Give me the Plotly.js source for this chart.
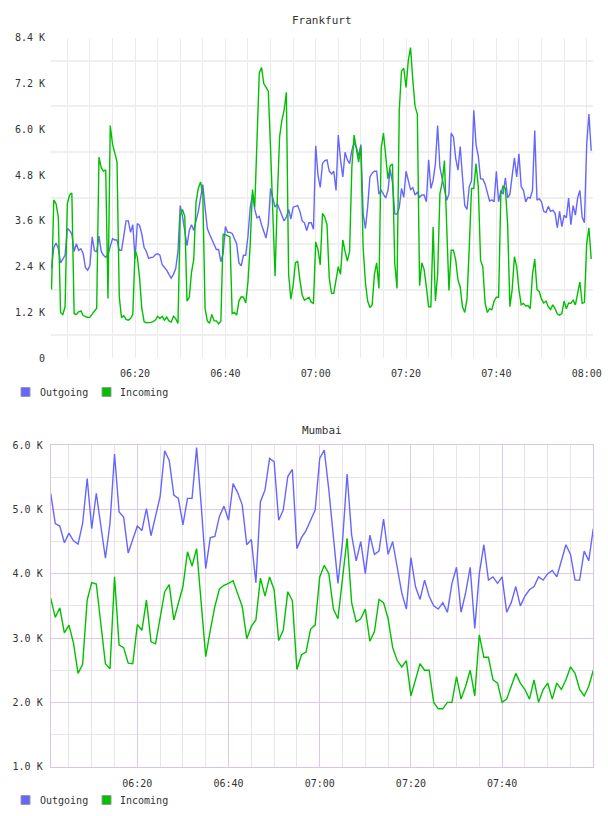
<!DOCTYPE html>
<html>
<head>
<meta charset="utf-8">
<script src="https://cdn.plot.ly/plotly-3.0.1.min.js"></script>
<style>
  html, body { margin: 0; padding: 0; background: #ffffff; }
  #chart { width: 608px; height: 816px; }
</style>
</head>
<body>
<div id="chart"></div>
<script>
// ---- Frankfurt: 30 s samples starting 06:01:30 (values in K) ----
const frankfurtStart = '06:01:30';
const frankfurtStepSec = 30;
const frankfurtOutgoing = [
  2.35, 2.90, 3.02, 2.88, 2.50, 2.60, 2.70, 3.40, 3.35, 3.25,
  2.80, 3.00, 2.83, 2.87, 2.75, 2.38, 2.31, 2.43, 3.18, 2.82,
  2.79, 3.20, 2.80, 2.70, 2.65, 2.72, 2.90, 3.13, 3.10, 3.10,
  2.83, 2.83, 3.20, 3.60, 3.60, 3.30, 3.50, 2.60, 3.53, 3.48,
  3.25, 2.90, 2.80, 2.62, 2.64, 2.65, 2.72, 2.74, 2.70, 2.45,
  2.38, 2.31, 2.20, 2.10, 2.20, 2.35, 2.80, 4.00, 3.72, 3.30,
  2.95, 3.35, 3.50, 3.35, 3.60, 3.85, 4.20, 4.55, 3.95, 3.40,
  3.25, 3.10, 3.00, 2.85, 2.85, 2.53, 2.75, 3.45, 3.30, 3.30,
  3.27, 3.15, 3.00, 2.50, 2.42, 2.70, 2.70, 3.20, 3.95, 4.30,
  3.90, 3.68, 3.72, 3.50, 3.30, 3.15, 3.50, 4.45, 4.20, 3.96,
  4.05, 3.90, 3.75, 3.60, 3.70, 3.90, 3.65, 3.96, 3.98, 4.00,
  3.85, 3.60, 3.55, 3.35, 3.55, 3.55, 3.38, 5.57, 4.80, 4.48,
  5.10, 5.18, 5.20, 4.90, 4.83, 4.90, 4.40, 5.85, 5.20, 4.75,
  5.40, 5.20, 5.10, 5.45, 5.64, 5.53, 5.30, 5.60, 3.80, 3.40,
  3.96, 4.75, 4.85, 4.90, 4.90, 4.30, 4.40, 4.30, 4.20, 4.40,
  4.95, 4.60, 3.79, 3.77, 3.95, 4.45, 4.22, 4.90, 4.65, 4.42,
  4.47, 4.28, 4.35, 4.22, 4.28, 4.28, 4.10, 5.20, 4.45, 4.66,
  5.10, 6.10, 5.00, 4.68, 4.45, 4.14, 4.30, 5.90, 5.80, 5.24,
  4.93, 5.55, 4.75, 4.00, 3.90, 4.50, 4.65, 6.50, 5.60, 5.30,
  4.70, 4.70, 4.57, 4.37, 4.12, 4.15, 4.10, 4.90, 4.10, 4.40,
  4.30, 4.73, 4.20, 4.30, 4.80, 5.25, 4.75, 5.36, 4.50, 4.40,
  4.10, 4.22, 4.20, 4.40, 5.97, 4.14, 4.18, 4.10, 3.85, 3.82,
  3.98, 3.85, 3.88, 3.80, 3.42, 3.85, 3.45, 3.75, 3.68, 4.20,
  3.50, 4.00, 3.75, 4.20, 4.40, 3.70, 3.55, 5.60, 6.40, 5.44
];
const frankfurtIncoming = [
  1.80, 4.15, 4.05, 3.70, 1.20, 1.15, 1.35, 4.05, 4.28, 4.33,
  1.17, 1.15, 1.22, 1.24, 1.12, 1.09, 1.07, 1.08, 1.15, 1.24,
  1.31, 5.27, 5.00, 4.90, 4.94, 1.57, 6.10, 5.62, 5.40, 5.15,
  1.61, 1.06, 1.12, 1.02, 1.00, 1.04, 1.15, 2.83, 2.66, 2.10,
  1.30, 0.96, 0.93, 0.93, 0.94, 0.96, 1.00, 1.10, 1.04, 1.10,
  1.00, 1.08, 0.98, 0.95, 1.10, 1.04, 0.91, 3.75, 3.90, 3.72,
  1.50, 1.60, 2.25, 2.60, 4.10, 4.45, 4.62, 4.30, 1.30, 0.98,
  0.92, 1.15, 0.98, 0.98, 0.90, 0.97, 3.25, 3.24, 3.22, 3.18,
  1.17, 1.20, 1.13, 1.50, 1.61, 1.60, 1.45, 2.00, 3.00, 4.42,
  3.96, 5.60, 7.47, 7.62, 7.20, 7.10, 7.00, 5.50, 3.60, 2.15,
  4.20, 5.80, 6.23, 6.50, 6.97, 2.20, 1.55, 1.90, 2.50, 2.55,
  2.05, 1.66, 1.52, 1.55, 1.60, 1.47, 1.44, 3.05, 2.85, 2.45,
  3.80, 3.70, 3.50, 2.10, 1.70, 1.70, 2.10, 2.40, 2.20, 3.10,
  2.80, 2.55, 2.80, 5.00, 5.85, 5.45, 5.14, 5.55, 2.90, 2.00,
  1.50, 1.33, 1.40, 2.20, 2.50, 1.83, 5.50, 5.90, 5.20, 4.70,
  5.05, 5.09, 2.50, 1.83, 6.50, 7.53, 7.60, 7.10, 7.80, 8.14,
  7.30, 6.60, 6.40, 1.90, 2.50, 2.33, 1.87, 1.35, 1.35, 3.44,
  1.50, 2.20, 4.31, 4.60, 5.18, 3.60, 1.78, 2.83, 2.83, 2.57,
  2.05, 1.87, 1.35, 1.20, 1.55, 2.90, 4.45, 4.45, 5.10, 4.50,
  2.57, 2.40, 1.45, 1.20, 1.30, 1.27, 1.50, 1.60, 1.60, 4.30,
  4.52, 4.45, 3.50, 1.35, 1.80, 2.66, 2.40, 1.80, 1.40, 1.44,
  1.37, 1.38, 1.30, 2.20, 2.60, 1.80, 1.75, 1.55, 1.45, 1.50,
  1.35, 1.28, 1.40, 1.30, 1.16, 1.13, 1.17, 1.50, 1.30, 1.45,
  1.44, 1.52, 1.40, 1.70, 2.00, 1.44, 1.46, 3.00, 3.42, 2.60
];
const frankfurtYTicks = [0, 1.2, 2.4, 3.6, 4.8, 6.0, 7.2, 8.4];
const frankfurtYTickText = ['0', '1.2 K', '2.4 K', '3.6 K', '4.8 K', '6.0 K', '7.2 K', '8.4 K'];
const frankfurtYGrid = [0.6, 1.8, 3.0, 4.2, 5.4, 6.6, 7.8];
const frankfurtXTicks = ['06:20', '06:40', '07:00', '07:20', '07:40', '08:00'];

// ---- Mumbai: 1 min samples starting 06:01 (values in K) ----
const mumbaiStart = '06:01:00';
const mumbaiStepSec = 60;
const mumbaiOutgoing = [
  5.25, 4.78, 4.74, 4.48, 4.63, 4.51, 4.46, 4.78, 5.48, 4.70,
  5.25, 4.73, 4.24, 4.78, 5.86, 4.96, 4.88, 4.32, 4.52, 4.74,
  4.67, 5.01, 4.59, 4.89, 5.20, 5.91, 5.76, 5.22, 5.17, 4.76,
  5.17, 5.17, 5.96, 5.07, 4.08, 4.56, 4.58, 4.89, 5.05, 4.83,
  5.40, 5.26, 5.07, 4.45, 4.53, 3.86, 5.12, 5.30, 5.79, 5.74,
  4.83, 4.99, 5.51, 5.62, 4.39, 4.56, 4.67, 4.83, 4.99, 5.79,
  5.92, 5.30, 4.60, 3.85, 4.50, 5.55, 4.60, 4.20, 4.50, 4.00,
  4.60, 4.30, 4.35, 4.85, 4.30, 4.50, 4.10, 3.70, 3.45, 4.25,
  3.80, 3.60, 3.90, 3.65, 3.50, 3.45, 3.55, 3.40, 3.85, 4.10,
  3.40, 3.70, 4.10, 3.15, 4.00, 4.45, 3.90, 3.95, 3.85, 3.95,
  3.40, 3.55, 3.80, 3.50, 3.65, 3.75, 3.80, 3.95, 3.90, 4.00,
  4.05, 3.95, 4.20, 4.45, 4.30, 3.90, 3.90, 4.35, 4.20, 4.70
];
const mumbaiIncoming = [
  3.62, 3.32, 3.47, 3.08, 3.20, 2.92, 2.45, 2.59, 3.59, 3.86,
  3.84, 3.20, 2.60, 2.52, 3.95, 2.89, 2.85, 2.61, 2.60, 3.21,
  3.12, 3.59, 2.94, 2.91, 3.31, 3.72, 3.83, 3.28, 3.54, 3.80,
  4.34, 4.12, 4.39, 3.49, 2.71, 3.12, 3.49, 3.76, 3.82, 3.85,
  3.89, 3.69, 3.49, 2.99, 3.18, 3.28, 3.93, 3.65, 3.95, 3.75,
  2.96, 3.12, 3.72, 3.58, 2.51, 2.74, 2.78, 3.14, 3.20, 3.95,
  4.13, 4.00, 3.45, 3.30, 3.90, 4.55, 3.55, 3.25, 3.30, 3.45,
  2.95, 3.10, 3.60, 3.55, 3.30, 2.85, 2.65, 2.55, 2.65, 2.10,
  2.35, 2.60, 2.50, 2.50, 2.00, 1.90, 1.90, 2.00, 2.00, 2.40,
  2.05, 2.25, 2.50, 2.10, 3.05, 2.70, 2.70, 2.35, 2.30, 2.00,
  2.05, 2.25, 2.45, 2.30, 2.20, 2.05, 2.35, 2.00, 2.20, 2.30,
  2.05, 2.30, 2.20, 2.35, 2.55, 2.45, 2.20, 2.10, 2.25, 2.50
];
const mumbaiYTicks = [1, 2, 3, 4, 5, 6];
const mumbaiYTickText = ['1.0 K', '2.0 K', '3.0 K', '4.0 K', '5.0 K', '6.0 K'];
const mumbaiYMinorGrid = [1.5, 2.5, 3.5, 4.5, 5.5];
const mumbaiXTicks = ['06:20', '06:40', '07:00', '07:20', '07:40'];

const seriesNames = ['Outgoing', 'Incoming'];
const seriesColors = ['#6666ff', '#00c000'];

// ---- helpers ----
const DAY = '2000-01-01';
const W = 608, H = 816;
function toSec(hms) {
  const p = hms.split(':').map(Number);
  return p[0] * 3600 + p[1] * 60 + (p[2] || 0);
}
function stamp(sec) {
  const h = Math.floor(sec / 3600), m = Math.floor((sec % 3600) / 60), s = sec % 60;
  const z = n => String(n).padStart(2, '0');
  return DAY + ' ' + z(h) + ':' + z(m) + ':' + z(s);
}
function timeAxis(start, step, n) {
  const s0 = toSec(start);
  return Array.from({ length: n }, (_, i) => stamp(s0 + i * step));
}
const px = x => x / W;
const py = y => 1 - y / H;

const fx = timeAxis(frankfurtStart, frankfurtStepSec, frankfurtOutgoing.length);
const mx = timeAxis(mumbaiStart, mumbaiStepSec, mumbaiOutgoing.length);

const lineStyle = c => ({ color: c, width: 1.4 });
const traces = [
  { x: fx, y: frankfurtOutgoing, name: seriesNames[0], type: 'scatter', mode: 'lines', line: lineStyle(seriesColors[0]), xaxis: 'x', yaxis: 'y' },
  { x: fx, y: frankfurtIncoming, name: seriesNames[1], type: 'scatter', mode: 'lines', line: lineStyle(seriesColors[1]), xaxis: 'x', yaxis: 'y' },
  { x: mx, y: mumbaiOutgoing, name: seriesNames[0], type: 'scatter', mode: 'lines', line: lineStyle(seriesColors[0]), xaxis: 'x2', yaxis: 'y2' },
  { x: mx, y: mumbaiIncoming, name: seriesNames[1], type: 'scatter', mode: 'lines', line: lineStyle(seriesColors[1]), xaxis: 'x2', yaxis: 'y2' }
];

const FONT = { family: 'DejaVu Sans Mono, monospace', size: 10, color: '#333333' };
const fGrid = '#ebebeb';
const mMajor = '#e0c8e0';
const mMinor = '#e9e4e9';
const mBorder = '#dcc4dc';

const layout = {
  width: W, height: H,
  margin: { l: 0, r: 0, t: 0, b: 0 },
  paper_bgcolor: '#ffffff', plot_bgcolor: '#ffffff',
  showlegend: false,
  font: FONT,
  xaxis: {
    domain: [px(51), px(593.3)],
    type: 'date',
    range: [stamp(toSec('06:01:23')), stamp(toSec('08:01:28'))],
    tickmode: 'array',
    tickvals: frankfurtXTicks.map(t => stamp(toSec(t))),
    ticktext: frankfurtXTicks,
    showgrid: true, gridcolor: fGrid, gridwidth: 1,
    minor: { dtick: 300000, tick0: stamp(toSec('06:00')), showgrid: true, gridcolor: fGrid, gridwidth: 1 },
    zeroline: false, showline: false, ticks: '',
    ticklabelstandoff: 8,
    tickfont: FONT,
    anchor: 'y', fixedrange: true
  },
  yaxis: {
    domain: [py(358.3), py(37.7)],
    range: [0, 8.4],
    tickmode: 'array', tickvals: frankfurtYTicks, ticktext: frankfurtYTickText,
    showgrid: false,
    minor: { tickmode: 'array', tickvals: frankfurtYGrid, showgrid: true, gridcolor: '#efefef', gridwidth: 2 },
    zeroline: false, showline: false, ticks: '',
    ticklabelstandoff: 5,
    tickfont: FONT,
    anchor: 'x', fixedrange: true
  },
  xaxis2: {
    domain: [px(50.7), px(593.3)],
    type: 'date',
    range: [stamp(toSec('06:01:00')), stamp(toSec('08:00:00'))],
    tickmode: 'array',
    tickvals: mumbaiXTicks.map(t => stamp(toSec(t))),
    ticktext: mumbaiXTicks,
    showgrid: true, gridcolor: mMajor, gridwidth: 1,
    minor: { dtick: 300000, tick0: stamp(toSec('06:00')), showgrid: true, gridcolor: mMinor, gridwidth: 1 },
    zeroline: false, showline: true, linecolor: mBorder, linewidth: 1, mirror: true, ticks: '',
    ticklabelstandoff: 7,
    tickfont: FONT,
    anchor: 'y2', fixedrange: true
  },
  yaxis2: {
    domain: [py(766.7), py(445)],
    range: [1, 6],
    tickmode: 'array', tickvals: mumbaiYTicks, ticktext: mumbaiYTickText,
    showgrid: true, gridcolor: mMajor, gridwidth: 1,
    minor: { tickmode: 'array', tickvals: mumbaiYMinorGrid, showgrid: true, gridcolor: mMinor, gridwidth: 1 },
    zeroline: false, showline: true, linecolor: mBorder, linewidth: 1, mirror: true, ticks: '',
    ticklabelstandoff: 5,
    tickfont: FONT,
    anchor: 'x2', fixedrange: true
  },
  annotations: [],
  shapes: []
};

// chart titles
[['Frankfurt', 20], ['Mumbai', 430]].forEach(([text, y]) => {
  layout.annotations.push({
    xref: 'paper', yref: 'paper', x: px(322), y: py(y), text: text,
    showarrow: false, xanchor: 'center', yanchor: 'middle',
    font: { family: FONT.family, size: 11, color: '#333333' }
  });
});

// legend rows under each chart: coloured square + label
[392, 800].forEach(rowY => {
  const items = [[21, 38], [102, 118]];
  items.forEach(([sx, tx], i) => {
    layout.shapes.push({
      type: 'rect', xref: 'paper', yref: 'paper',
      x0: px(sx), x1: px(sx + 9), y0: py(rowY + 4.5), y1: py(rowY - 4.5),
      fillcolor: seriesColors[i], line: { color: '#999999', width: 1 }
    });
    layout.annotations.push({
      xref: 'paper', yref: 'paper', x: px(tx), y: py(rowY), text: seriesNames[i],
      showarrow: false, xanchor: 'left', yanchor: 'middle',
      font: FONT
    });
  });
});

Plotly.newPlot('chart', traces, layout, { displayModeBar: false, staticPlot: true });
</script>
</body>
</html>
